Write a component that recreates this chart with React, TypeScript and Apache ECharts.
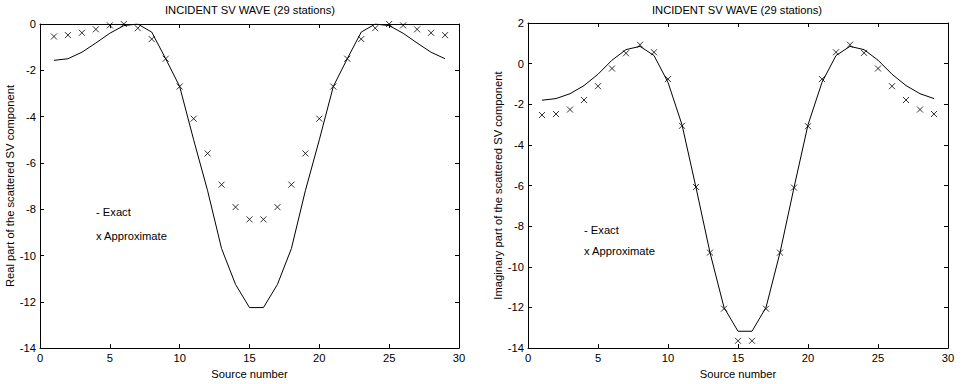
import React, { useEffect, useRef } from "react";
import * as echarts from "echarts";

const sources = [1,2,3,4,5,6,7,8,9,10,11,12,13,14,15,16,17,18,19,20,21,22,23,24,25,26,27,28,29];
const realExact = [-1.57,-1.5,-1.22,-0.82,-0.4,-0.07,0,-0.35,-1.5,-2.7,-5.0,-7.2,-9.7,-11.25,-12.25,-12.25,-11.25,-9.7,-7.2,-5.0,-2.7,-1.5,-0.35,0,-0.07,-0.4,-0.82,-1.22,-1.5];
const realApprox = [-0.54,-0.48,-0.38,-0.23,-0.06,0,-0.18,-0.65,-1.5,-2.7,-4.09,-5.59,-6.94,-7.91,-8.44,-8.44,-7.91,-6.94,-5.59,-4.09,-2.7,-1.5,-0.65,-0.18,0,-0.06,-0.23,-0.38,-0.48];
const imagExact = [-1.8,-1.72,-1.48,-1.08,-0.52,0.17,0.69,0.85,0.4,-0.92,-3.01,-6.1,-9.3,-12.0,-13.17,-13.17,-12.0,-9.3,-6.1,-3.01,-0.92,0.4,0.85,0.69,0.17,-0.52,-1.08,-1.48,-1.72];
const imagApprox = [-2.53,-2.48,-2.26,-1.79,-1.11,-0.24,0.51,0.93,0.56,-0.76,-3.06,-6.07,-9.3,-12.06,-13.64,-13.64,-12.06,-9.3,-6.1,-3.08,-0.76,0.56,0.93,0.53,-0.24,-1.11,-1.79,-2.26,-2.48];

const titleText = "INCIDENT SV WAVE (29 stations)";
const xName = "Source number";
const yNameReal = "Real part of the scattered SV component";
const yNameImag = "Imaginary part of the scattered SV component";
const legendExact = "- Exact";
const legendApprox = "x Approximate";

const FONT = "'Liberation Sans', Arial, Helvetica, sans-serif";
const FS = 11.2;
const CROSS = "path://M0,0L10,10M10,0L0,10";

export default function App() {
  const ref = useRef<HTMLDivElement>(null);
  useEffect(() => {
    if (!ref.current) return;
    const chart = echarts.init(ref.current, null, { renderer: "svg" });
    const axisLine = { show: true, onZero: false, lineStyle: { color: "#000", width: 1 } };
    const tick = { show: true, inside: true, length: 4, lineStyle: { color: "#000" } };
    const lbl = { color: "#000", fontSize: FS, fontFamily: FONT };
    const pair = (arr: number[]) => arr.map((v, i) => [sources[i], v]);

    const mkX = (gi: number, pos: string, main: boolean) => ({
      type: "value", gridIndex: gi, position: pos, min: 0, max: 30, interval: 5,
      axisLine, axisTick: tick, splitLine: { show: false },
      axisLabel: main ? { ...lbl, margin: 4 } : { show: false },
      name: main ? xName : "", nameLocation: "middle", nameGap: 17,
      nameTextStyle: { color: "#000", fontSize: FS, fontFamily: FONT },
    });
    const mkY = (gi: number, pos: string, main: boolean, min: number, max: number, name: string) => ({
      type: "value", gridIndex: gi, position: pos, min, max, interval: 2,
      axisLine, axisTick: tick, splitLine: { show: false },
      axisLabel: main ? { ...lbl, margin: 4 } : { show: false },
      name: main ? name : "", nameLocation: "middle", nameGap: 24, nameRotate: 90,
      nameTextStyle: { color: "#000", fontSize: FS, fontFamily: FONT },
    });

    const exactStyle = { type: "line", symbol: "none", lineStyle: { color: "#000", width: 1 } };
    const approxStyle = {
      type: "scatter", symbol: CROSS, symbolSize: 6,
      itemStyle: { color: "none", borderColor: "#000", borderWidth: 1 },
    };
    const txt = (x: number, y: number, text: string, align = "left") => ({
      type: "text", x, y,
      style: { text, fill: "#000", font: `${FS}px ${FONT}`, textAlign: align, textVerticalAlign: "middle" },
    });

    chart.setOption({
      animation: false,
      backgroundColor: "#fff",
      grid: [
        { left: 40, top: 24, width: 419, height: 329 },
        { left: 528, top: 23, width: 420, height: 330 },
      ],
      xAxis: [mkX(0, "bottom", true), mkX(0, "top", false), mkX(1, "bottom", true), mkX(1, "top", false)],
      yAxis: [
        mkY(0, "left", true, -14, 0, yNameReal), mkY(0, "right", false, -14, 0, ""),
        mkY(1, "left", true, -14, 2, yNameImag), mkY(1, "right", false, -14, 2, ""),
      ],
      series: [
        { ...exactStyle, xAxisIndex: 0, yAxisIndex: 0, data: pair(realExact) },
        { ...approxStyle, xAxisIndex: 0, yAxisIndex: 0, data: pair(realApprox) },
        { ...exactStyle, xAxisIndex: 2, yAxisIndex: 2, data: pair(imagExact) },
        { ...approxStyle, xAxisIndex: 2, yAxisIndex: 2, data: pair(imagApprox) },
      ],
      graphic: [
        txt(250, 10, titleText, "center"),
        txt(737, 10, titleText, "center"),
        txt(96, 212, legendExact),
        txt(96, 236, legendApprox),
        txt(584, 230, legendExact),
        txt(584, 251, legendApprox),
      ],
    });
    return () => chart.dispose();
  }, []);
  return <div ref={ref} style={{ position: "fixed", left: 0, top: 0, width: 962, height: 384 }} />;
}
